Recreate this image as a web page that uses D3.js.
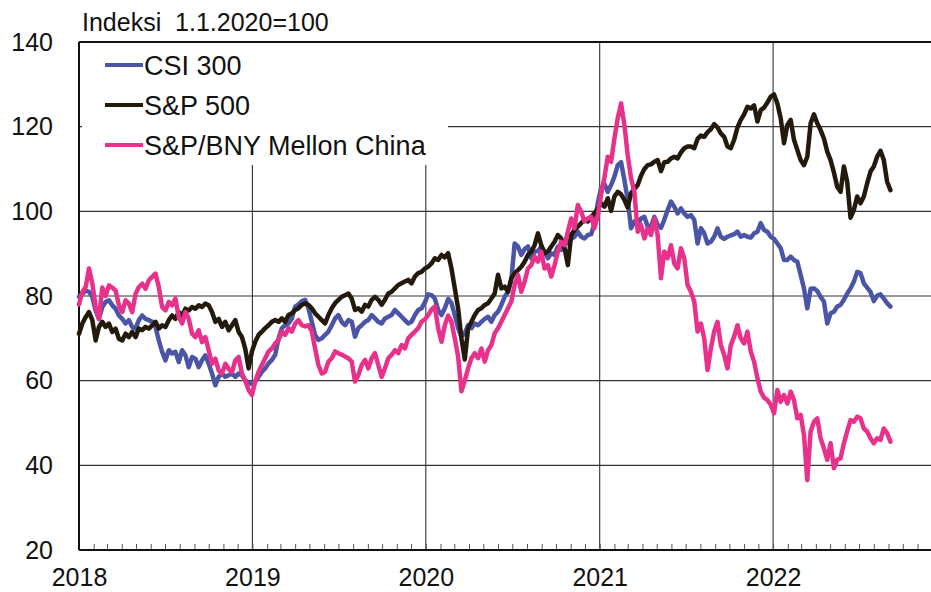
<!DOCTYPE html>
<html>
<head>
<meta charset="utf-8">
<script src="https://cdn.jsdelivr.net/npm/d3@7"></script>
<style>
  html, body { margin: 0; padding: 0; background: #fff; }
  svg { display: block; font-family: "Liberation Sans", Arial, sans-serif; }
</style>
</head>
<body>
<svg id="chart" width="931" height="592"></svg>
<script>
// Weekly index values (first observation week of January 2018 onward)
const seriesNames = ["CSI 300", "S&P 500", "S&P/BNY Mellon China"];

const csi300 = [
  79.8, 80.5, 81.3, 81, 79.8, 76.6, 74.6, 77.4, 78.6, 79,
  77.8, 77, 75.4, 74.6, 73.5, 74.3, 72.7, 72.3, 74.3, 75.4,
  74.6, 74.3, 73.9, 72.7, 69.5, 66.8, 64.8, 67.2, 66.4, 66.8,
  64.4, 67.2, 66, 63.2, 65.6, 65.2, 63.2, 64.8, 66, 64,
  61.7, 58.9, 60.9, 61.7, 60.9, 61.3, 61.7, 60.9, 61.7, 61.3,
  60.1, 59.5, 59.2, 59.8, 60.9, 62.1, 62.9, 64.1, 64.9, 66.1,
  70, 72.4, 73.1, 73.5, 74.7, 77.5, 78, 78.8, 79.1, 77.1,
  73.9, 70.8, 69.6, 70, 70.8, 71.6, 73.1, 74.7, 75.5, 73.9,
  73.1, 74.3, 73.9, 70.4, 72.4, 73.1, 73.9, 74.3, 75.5, 74.7,
  73.9, 73.5, 74.7, 75.1, 75.5, 76.7, 75.9, 75.1, 74.3, 73.5,
  73.9, 75.5, 76.7, 77.1, 78.5, 80.4, 80.2, 79.4, 76.7, 75.5,
  77.1, 79.3, 78.3, 75.5, 72.4, 70.4, 71.2, 73.1, 72.4, 73.5,
  73.1, 73.9, 74.6, 75.1, 73.9, 75.5, 76.3, 77.9, 79.8, 81,
  83.8, 92.4, 91.7, 89.7, 91.1, 91.7, 88.9, 90.5, 90.6, 91.7,
  90.5, 88.9, 90.1, 89.7, 91.7, 90.9, 92, 92.8, 93.5, 94,
  95.2, 94, 93.6, 94.4, 94.6, 97, 102, 105.5, 106.5, 104.6,
  106.2, 108.2, 110.9, 111.6, 107.4, 102.7, 96, 97.6, 96.8, 98.3,
  98.7, 96.4, 96.4, 98.7, 96.8, 96.1, 98, 100.3, 102.3, 101.1,
  99.5, 100.7, 99.5, 98.7, 99.1, 98, 92.4, 96, 94.8, 92.4,
  92.8, 94, 96, 94, 93.5, 94, 94.3, 94.6, 95.2, 94,
  94.4, 94, 93.8, 94.8, 95.2, 97.2, 95.6, 95.2, 94, 93.5,
  92.4, 91.3, 88.5, 88.5, 89.3, 88.5, 88.1, 85, 81.8, 77.1,
  81.7, 81.8, 81.2, 79.8, 78.7, 73.5, 75.9, 76.3, 77.5, 77.9,
  79.1, 80.6, 81.8, 83.4, 85.7, 85.4, 83, 82, 81, 78.8,
  80.1, 80.4, 79.4, 78.3, 77.5
];

const sp500 = [
  71.1, 73.5, 75, 76.2, 74.3, 69.5, 72.7, 73.9, 72.7, 73.5,
  71.5, 72.3, 69.9, 69.5, 71.1, 70.3, 71.5, 70.3, 72.3, 71.9,
  72.7, 72.3, 73.1, 73.9, 72.3, 73.1, 72.7, 74.3, 75.4, 74.6,
  76.2, 75.4, 77, 76.6, 77.4, 77, 77.8, 77.4, 78.2, 77.8,
  76.2, 73.9, 74.6, 72.7, 73.9, 71.9, 73.1, 74.3, 71.5, 70.3,
  67.5, 62.9, 66.9, 69.2, 70.8, 71.6, 72.4, 73.1, 73.9, 74.3,
  73.9, 74.7, 73.9, 75.5, 75.9, 76.7, 77.1, 77.9, 78.3, 77.9,
  77.1, 75.9, 75.1, 74.3, 73.5, 75.5, 77.1, 78.3, 79.1, 79.8,
  80.2, 80.6, 79.4, 76.7, 77.1, 76.3, 77.9, 77.5, 79.1, 79.8,
  79.1, 77.9, 79.1, 80.6, 81, 81.8, 82.6, 83, 83.4, 83.8,
  83, 84.6, 85.4, 85.7, 86.5, 86.9, 87.7, 88.9, 88.5, 89.7,
  89.1, 90.1, 86.5, 81.8, 77.1, 70, 65, 72.4, 73.9, 75.5,
  76.7, 77.1, 77.9, 78.3, 79.4, 80.6, 85, 81.8, 82.2, 81,
  84.2, 85.4, 86.1, 86.9, 88.1, 89.7, 90.5, 92, 94.8, 92,
  90.1, 90.5, 91.7, 92.8, 94.4, 93.6, 91.3, 87.3, 94.4, 95.6,
  96.4, 97.2, 98, 97.6, 98.7, 99.5, 100.6, 101.9, 101.1, 103.1,
  100.1, 103.5, 104.6, 104, 102.7, 100.9, 104.3, 105.3, 106.2, 108.4,
  110, 110.9, 111.1, 111.7, 112.1, 109.5, 111.6, 111.7, 112.5, 112.9,
  112.5, 113.9, 114.9, 115.3, 115.3, 114.9, 117.1, 117.9, 117.6, 118.7,
  119.4, 120.6, 119.8, 118.4, 117.6, 115.3, 114.9, 116.9, 119.8, 121.6,
  122.9, 124.7, 124.3, 125, 121.2, 123.9, 124.5, 125.7, 127.1, 127.6,
  125.5, 122, 116.1, 120.4, 121.6, 116.9, 114.5, 112.1, 110.9, 112.9,
  120.8, 122.9, 120.8, 119.2, 117.2, 114.1, 112.1, 109.2, 105.8, 104.6,
  110.6, 107, 98.5, 100.3, 103.5, 101.9, 103.5, 106.6, 109.4, 110.6,
  112.9, 114.3, 112.1, 107, 105
];

const bnyChina = [
  78, 81, 82.1, 86.5, 83, 77.5, 74.6, 82, 80, 82.5,
  82, 81.3, 77.8, 76.2, 79, 78.2, 76.2, 80.5, 82.1, 82.9,
  81.7, 83.7, 84.5, 85.3, 82.1, 77.4, 76.6, 78.6, 77.8, 79.4,
  75, 73.5, 76.2, 74.6, 71.1, 70.3, 71.9, 69.1, 70.3, 67.2,
  64, 65.2, 62.4, 61.7, 64, 62.8, 62, 64.8, 65.6, 61.7,
  60, 57.8, 56.6, 59.8, 62.1, 63.7, 65.3, 66.9, 67.6, 68.8,
  69.6, 71.6, 70.8, 72.4, 71.6, 73.5, 74.3, 73.1, 72.8, 73.1,
  71.6, 67.6, 63.7, 61.7, 62.1, 64.5, 65.3, 66.9, 66.5, 66.1,
  65.7, 65.3, 64.5, 59.8, 61.3, 63.7, 64.9, 62.9, 65.3, 66.5,
  63.7, 60.9, 62.9, 65.3, 66.1, 67.2, 66.5, 68.4, 67.6, 70,
  70.8, 71.6, 72.4, 73.9, 74.5, 75.5, 76.8, 77.5, 72.4, 69.2,
  73.1, 75.4, 73.9, 70, 65.7, 57.5, 60, 62.9, 65.3, 66.5,
  65.3, 67.6, 64.5, 67.2, 68.4, 71.2, 72.4, 73.9, 75.5, 77.1,
  78.7, 82.6, 85, 81, 83.4, 86.5, 87.3, 89.3, 88.1, 90.5,
  86.5, 87.3, 84.6, 87.3, 90.5, 92.8, 92, 95.2, 98.3, 96,
  101.5, 99.9, 97.6, 98.3, 98.7, 96, 99, 104, 108, 112.9,
  111.7, 117.2, 122, 125.5, 120.4, 113.3, 107.8, 104.6, 95.2, 96.8,
  93.6, 96, 94.4, 98.3, 94.4, 84.2, 90.5, 88.9, 92, 87.7,
  86.5, 91.3, 88.9, 82.6, 81, 78.7, 71.6, 73.5, 70, 62.5,
  67.6, 71.6, 73.9, 68.4, 66.1, 62.9, 68.4, 70.4, 73.1, 70,
  68.8, 71.6, 66.9, 64.5, 60.6, 57.4, 56, 55.4, 54.3, 52.3,
  57.8, 55, 56.6, 54.6, 57.4, 55.4, 51.1, 51.9, 47.2, 36.5,
  48, 50.3, 51.1, 46.4, 44, 41.3, 45.2, 39.3, 41.3, 41.7,
  45.2, 48, 50.7, 50.3, 51.5, 51.1, 48.7, 48, 46.4, 45.2,
  46.4, 46, 48.7, 47.6, 45.6
];

const yTicks = [20, 40, 60, 80, 100, 120, 140];
const yearLabels = ["2018", "2019", "2020", "2021", "2022"];
const axisTitle = "Indeksi  1.1.2020=100";
const colors = ["#4b55a5", "#231a0c", "#e8318b"];

// Weekly observation dates
const firstWeek = new Date(2018, 0, 1);
const weeks = csi300.map((_, i) => d3.timeDay.offset(firstWeek, 7 * i));

const svg = d3.select("#chart");
const plotLeft = 79, plotTop = 42, plotBottom = 550, plotRight = 946.5;
const labelFont = "'Liberation Sans', Arial, sans-serif";

const x = d3.scaleTime()
  .domain([new Date(2018, 0, 1), new Date(2023, 0, 1)])
  .range([plotLeft, plotRight]);
const y = d3.scaleLinear().domain([20, 140]).range([plotBottom, plotTop]);

const yearDates = yearLabels.map(s => new Date(+s, 0, 1));

// Grid
const grid = svg.append("g").attr("stroke", "#333").attr("stroke-width", 1.1);
grid.selectAll("line.h").data(yTicks.filter(v => v > 20 && v < 140)).join("line")
  .attr("class", "h")
  .attr("x1", plotLeft).attr("x2", plotRight)
  .attr("y1", d => y(d)).attr("y2", d => y(d));
grid.selectAll("line.v").data(yearDates.slice(1)).join("line")
  .attr("class", "v")
  .attr("x1", d => x(d)).attr("x2", d => x(d))
  .attr("y1", plotTop).attr("y2", plotBottom);

// Monthly minor ticks along the bottom
svg.append("g")
  .attr("transform", `translate(0,${plotBottom})`)
  .call(d3.axisBottom(x).ticks(d3.timeMonth.every(1)).tickSize(-6).tickFormat(""))
  .call(g => g.select(".domain").remove())
  .call(g => g.selectAll("line").attr("stroke", "#555").attr("stroke-width", 1));

// Legend background covers the grid behind it
svg.append("rect")
  .attr("x", 82).attr("y", plotTop + 1)
  .attr("width", 366).attr("height", 122)
  .attr("fill", "#fff");

// Frame: left axis, top and bottom border
svg.append("g").attr("stroke", "#111").attr("stroke-width", 2).attr("fill", "none")
  .selectAll("line").data([
    [plotLeft, plotTop, plotLeft, plotBottom],
    [plotLeft, plotTop, plotRight, plotTop],
    [plotLeft, plotBottom, plotRight, plotBottom]
  ]).join("line")
  .attr("x1", d => d[0]).attr("y1", d => d[1])
  .attr("x2", d => d[2]).attr("y2", d => d[3]);

// Axis labels
svg.append("g")
  .attr("transform", `translate(${plotLeft},0)`)
  .call(d3.axisLeft(y).tickValues(yTicks).tickSize(0).tickPadding(26).tickFormat(d3.format("d")))
  .call(g => g.select(".domain").remove())
  .call(g => g.selectAll("text").attr("font-size", 25).attr("fill", "#111")
    .attr("font-family", labelFont));

svg.append("g")
  .attr("transform", `translate(0,${plotBottom})`)
  .call(d3.axisBottom(x).tickValues(yearDates).tickSize(0).tickPadding(18)
    .tickFormat((d, i) => yearLabels[i]))
  .call(g => g.select(".domain").remove())
  .call(g => g.selectAll("text").attr("font-size", 25).attr("fill", "#111")
    .attr("font-family", labelFont));

svg.append("text")
  .attr("x", 82).attr("y", 31)
  .attr("font-size", 25).attr("fill", "#111")
  .style("white-space", "pre")
  .text(axisTitle);

// Series lines
const line = d3.line()
  .x((d, i) => x(weeks[i]))
  .y(d => y(d))
  .curve(d3.curveLinear);

const allSeries = [csi300, sp500, bnyChina];
svg.append("g").attr("fill", "none")
  .selectAll("path").data(allSeries).join("path")
  .attr("d", line)
  .attr("stroke", (d, i) => colors[i])
  .attr("stroke-width", 4.5)
  .attr("stroke-linejoin", "round")
  .attr("stroke-linecap", "round");

// Legend
const legend = svg.append("g").selectAll("g").data(seriesNames).join("g")
  .attr("transform", (d, i) => `translate(105,${65 + i * 40})`);
legend.append("line")
  .attr("x1", 0).attr("x2", 38)
  .attr("stroke", (d, i) => colors[i])
  .attr("stroke-width", 4);
legend.append("text")
  .attr("x", 39).attr("y", 10)
  .attr("font-size", 27).attr("fill", "#111")
  .text(d => d);
</script>
</body>
</html>
